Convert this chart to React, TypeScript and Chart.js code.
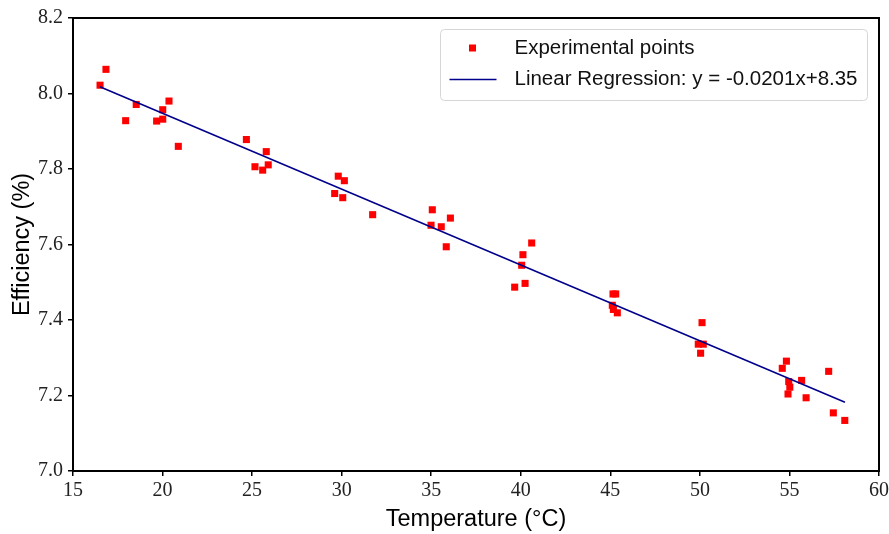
import React, { useEffect, useRef } from 'react';
import { Chart, registerables } from 'chart.js';

Chart.register(...registerables);

// Experimental data: temperature (°C) and efficiency (%)
const tempC = [
  16.51, 16.84, 17.94, 18.53, 19.67, 20.01, 20.01, 20.36, 20.88,
  24.68, 25.79, 25.16, 25.59, 25.90,
  29.81, 30.15, 29.61, 30.06, 31.73,
  35.06, 36.07, 34.99, 35.56, 35.84,
  40.61, 40.12, 40.05, 40.24, 39.66,
  45.15, 45.30, 45.11, 45.17, 45.39,
  50.12, 49.91, 50.19, 50.04,
  54.83, 54.60, 54.96, 55.02, 54.92, 55.68, 57.19, 55.93, 57.45, 58.09,
];
const efficiency = [
  8.022, 8.064, 7.928, 7.971, 7.927, 7.957, 7.932, 7.980, 7.860,
  7.878, 7.846, 7.806, 7.797, 7.811,
  7.781, 7.769, 7.735, 7.724, 7.679,
  7.692, 7.670, 7.651, 7.647, 7.594,
  7.604, 7.573, 7.545, 7.497, 7.487,
  7.469, 7.469, 7.439, 7.428, 7.419,
  7.393, 7.336, 7.336, 7.312,
  7.291, 7.272, 7.237, 7.222, 7.204, 7.240, 7.264, 7.194, 7.154, 7.134,
];

// Regression line endpoints (y = -0.0201x + 8.35)
const fitX = [16.5, 58.1];
const fitY = [8.018, 7.182];

const legendLabels = ['Experimental points', 'Linear Regression: y = -0.0201x+8.35'];
const xTitle = 'Temperature (°C)';
const yTitle = 'Efficiency (%)';
const xRange = [15, 60];
const yRange = [7.0, 8.2];
const xStep = 5;
const yStep = 0.2;

const POINT_COLOR = '#ff0000';
const LINE_COLOR = '#00008b';
const SERIF = '"Liberation Serif", "DejaVu Serif", serif';
const SANS = '"Liberation Sans", "DejaVu Sans", sans-serif';

const framePlugin = {
  id: 'frameLegend',
  afterDatasetsDraw(chart: any) {
    const { ctx, chartArea: a } = chart;
    ctx.save();
    ctx.strokeStyle = '#000';
    ctx.lineWidth = 2;
    ctx.strokeRect(a.left, a.top, a.right - a.left, a.bottom - a.top);

    // legend box
    const bw = 427;
    const bh = 71;
    const bx = a.right - 12 - bw + 0.5;
    const by = a.top + 11.5;
    const r = 4;
    ctx.beginPath();
    ctx.moveTo(bx + r, by);
    ctx.lineTo(bx + bw - r, by);
    ctx.quadraticCurveTo(bx + bw, by, bx + bw, by + r);
    ctx.lineTo(bx + bw, by + bh - r);
    ctx.quadraticCurveTo(bx + bw, by + bh, bx + bw - r, by + bh);
    ctx.lineTo(bx + r, by + bh);
    ctx.quadraticCurveTo(bx, by + bh, bx, by + bh - r);
    ctx.lineTo(bx, by + r);
    ctx.quadraticCurveTo(bx, by, bx + r, by);
    ctx.closePath();
    ctx.fillStyle = 'rgba(255,255,255,0.8)';
    ctx.fill();
    ctx.strokeStyle = '#d6d6d6';
    ctx.lineWidth = 1;
    ctx.stroke();

    const row1 = by + 18.5;
    const row2 = by + 50;
    // marker
    ctx.fillStyle = POINT_COLOR;
    ctx.fillRect(bx + 32 - 3.5, row1 - 3.5, 7, 7);
    // line sample
    ctx.beginPath();
    ctx.moveTo(bx + 9, row2);
    ctx.lineTo(bx + 56, row2);
    ctx.strokeStyle = LINE_COLOR;
    ctx.lineWidth = 1.6;
    ctx.stroke();

    ctx.fillStyle = '#111';
    ctx.font = `20.5px ${SANS}`;
    ctx.textBaseline = 'middle';
    ctx.textAlign = 'left';
    ctx.fillText(legendLabels[0], bx + 74, row1);
    ctx.fillText(legendLabels[1], bx + 74, row2);
    ctx.restore();
  },
};

export default function App() {
  const ref = useRef<HTMLCanvasElement | null>(null);

  useEffect(() => {
    document.body.style.margin = '0';
    const canvas = ref.current;
    if (!canvas) return;
    const points = tempC.map((x, i) => ({ x, y: efficiency[i] }));
    const line = fitX.map((x, i) => ({ x, y: fitY[i] }));

    const chart = new Chart(canvas, {
      type: 'scatter',
      data: {
        datasets: [
          {
            type: 'line',
            label: legendLabels[1],
            data: line,
            borderColor: LINE_COLOR,
            backgroundColor: LINE_COLOR,
            borderWidth: 1.6,
            pointRadius: 0,
            fill: false,
          } as any,
          {
            type: 'scatter',
            label: legendLabels[0],
            data: points,
            pointStyle: 'rect',
            pointRadius: 5,
            pointHoverRadius: 5,
            backgroundColor: POINT_COLOR,
            borderWidth: 0,
          },
        ],
      },
      options: {
        responsive: false,
        animation: false,
        events: [],
        layout: { padding: { top: 18, right: 10, left: 0, bottom: 0 } },
        plugins: {
          legend: { display: false },
          tooltip: { enabled: false },
        },
        scales: {
          x: {
            type: 'linear',
            min: xRange[0],
            max: xRange[1],
            ticks: {
              stepSize: xStep,
              font: { family: SERIF, size: 20 },
              color: '#222',
              padding: 3,
            },
            grid: {
              display: true,
              drawOnChartArea: false,
              drawTicks: true,
              tickLength: 5,
              color: '#000',
              lineWidth: 1.5,
            },
            border: { display: false },
            title: {
              display: true,
              text: xTitle,
              font: { family: SANS, size: 23.5 },
              color: '#000',
              padding: { top: 0, bottom: 0 },
            },
            afterFit(s: any) {
              s.height = 63;
              s.paddingLeft = 0;
              s.paddingRight = 0;
            },
          },
          y: {
            type: 'linear',
            min: yRange[0],
            max: yRange[1],
            ticks: {
              stepSize: yStep,
              font: { family: SERIF, size: 20 },
              color: '#222',
              padding: 5,
              callback: (v: any) => Number(v).toFixed(1),
            },
            grid: {
              display: true,
              drawOnChartArea: false,
              drawTicks: true,
              tickLength: 5,
              color: '#000',
              lineWidth: 1.5,
            },
            border: { display: false },
            title: {
              display: true,
              text: yTitle,
              font: { family: SANS, size: 23.5 },
              color: '#000',
              padding: { top: 8, bottom: 0 },
            },
            afterFit(s: any) {
              s.width = 73;
              s.paddingTop = 0;
              s.paddingBottom = 0;
            },
          },
        },
      },
      plugins: [framePlugin],
    });
    return () => chart.destroy();
  }, []);

  return (
    <div style={{ width: 889, height: 534 }}>
      <canvas ref={ref} width={889} height={534} style={{ display: 'block', width: 889, height: 534 }} />
    </div>
  );
}
